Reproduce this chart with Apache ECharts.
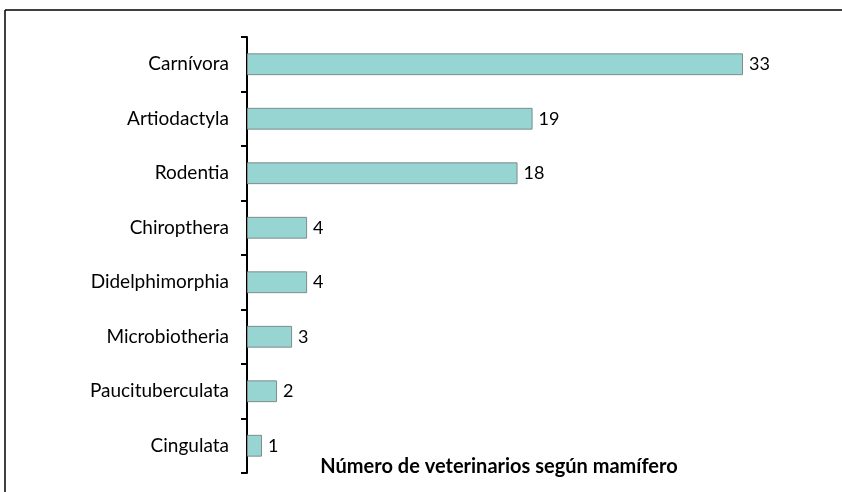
<!DOCTYPE html>
<html>
<head>
<meta charset="utf-8">
<script src="https://cdn.jsdelivr.net/npm/echarts@6/dist/echarts.min.js"></script>
<style>
  html, body { margin: 0; padding: 0; background: #fff; }
  #main { width: 842px; height: 492px; }
</style>
</head>
<body>
<div id="main"></div>
<script>
// categorías (de abajo hacia arriba, como las dibuja el eje)
var categorias = ['Cingulata', 'Paucituberculata', 'Microbiotheria', 'Didelphimorphia',
  'Chiropthera', 'Rodentia', 'Artiodactyla', 'Carnívora']
// número de veterinarios
var veterinarios = [1, 2, 3, 4, 4, 18, 19, 33]
var titulo = 'Número de veterinarios según mamífero'

var fuente = 'Lato, "Open Sans", sans-serif'

var myChart = echarts.init(document.getElementById('main'))
myChart.setOption({
  animation: false,
  title: {
    text: titulo,
    left: 494,
    top: 452,
    textAlign: 'center',
    textStyle: { fontFamily: fuente, fontSize: 20, fontWeight: 'bold', color: '#000' }
  },
  grid: {
    left: 247,
    right: 99,
    top: 37,
    bottom: 19
  },
  xAxis: {
    type: 'value',
    min: 0,
    max: 33,
    show: false
  },
  yAxis: {
    type: 'category',
    data: categorias,
    axisLine: { lineStyle: { color: '#000', width: 2 } },
    axisTick: { show: true, length: 6, lineStyle: { color: '#000', width: 2 } },
    axisLabel: { margin: 18, fontFamily: fuente, fontSize: 19, color: '#000' }
  },
  graphic: [
    { type: 'line', shape: { x1: 5, y1: 10, x2: 842, y2: 10 }, style: { stroke: '#000', lineWidth: 1.5 } },
    { type: 'line', shape: { x1: 5, y1: 10, x2: 5, y2: 492 }, style: { stroke: '#000', lineWidth: 1.5 } }
  ],
  series: [{
    type: 'bar',
    data: veterinarios,
    barWidth: '40%',
    itemStyle: { color: '#96d5d1', borderColor: '#7f8c8c', borderWidth: 1 },
    label: {
      show: true,
      position: 'right',
      distance: 6,
      fontFamily: fuente,
      fontSize: 18,
      color: '#000'
    }
  }]
})
</script>
</body>
</html>
